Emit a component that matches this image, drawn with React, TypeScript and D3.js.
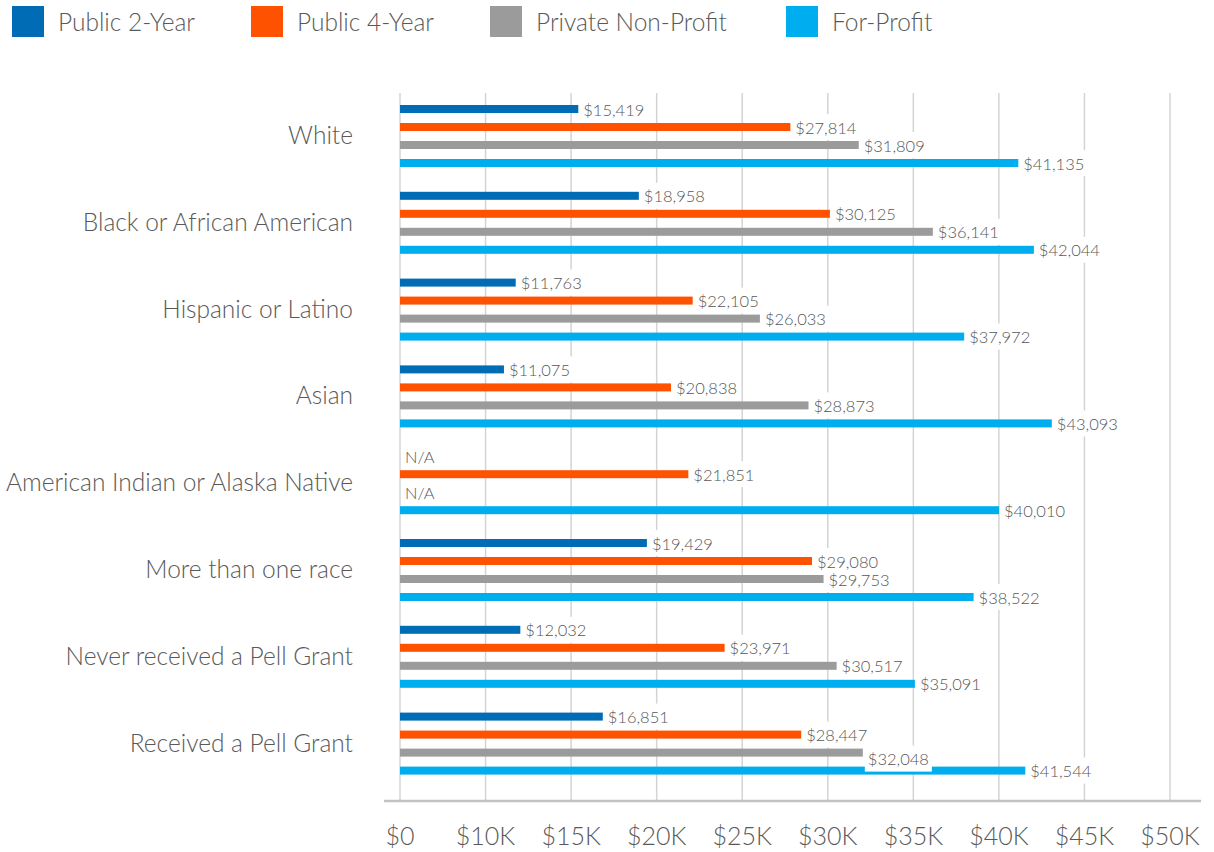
import React, { useEffect, useRef } from "react";
import * as d3 from "d3";

const categories = [
  "White",
  "Black or African American",
  "Hispanic or Latino",
  "Asian",
  "American Indian or Alaska Native",
  "More than one race",
  "Never received a Pell Grant",
  "Received a Pell Grant",
];

const seriesNames = ["Public 2-Year", "Public 4-Year", "Private Non-Profit", "For-Profit"];
const seriesColors = ["#006cb5", "#ff5200", "#9b9b9b", "#00aeef"];

const public2Year: (number | null)[] = [15419, 18958, 11763, 11075, null, 19429, 12032, 16851];
const public4Year: (number | null)[] = [27814, 30125, 22105, 20838, 21851, 29080, 23971, 28447];
const privateNonProfit: (number | null)[] = [31809, 36141, 26033, 28873, null, 29753, 30517, 32048];
const forProfit: (number | null)[] = [41135, 42044, 37972, 43093, 40010, 38522, 35091, 41544];

const tickValues = [5000, 10000, 15000, 20000, 25000, 30000, 35000, 40000, 45000, 50000];
const tickLabels = ["$0", "$10K", "$15K", "$20K", "$25K", "$30K", "$35K", "$40K", "$45K", "$50K"];

// label nudges (category index, series index) -> dy in px
const labelNudges: Record<string, number> = { "7-2": 6 };

const W = 1214;
const H = 852;
const FONT = "Lato, 'Open Sans', sans-serif";
const TEXT = "#595959";

export default function App() {
  const ref = useRef<SVGSVGElement | null>(null);

  useEffect(() => {
    const svg = d3.select(ref.current);
    svg.selectAll("*").remove();

    const series = [public2Year, public4Year, privateNonProfit, forProfit];

    const x = d3.scaleLinear().domain([5000, 50000]).range([400, 1170]);
    const y = d3.scaleBand<string>().domain(categories).range([92.6, 787]).padding(0);
    const inner = d3.scaleBand<number>().domain([0, 1, 2, 3]).range([-36, 36]);
    const barH = 8;

    // legend
    const legend = svg.append("g");
    const legendX = [12, 251, 490, 786];
    seriesNames.forEach((name, i) => {
      legend.append("rect").attr("x", legendX[i]).attr("y", 6).attr("width", 32).attr("height", 31).attr("fill", seriesColors[i]);
      legend
        .append("text")
        .attr("x", legendX[i] + 46)
        .attr("y", 31)
        .attr("font-family", FONT)
        .attr("font-weight", 300)
        .attr("font-size", 24.5)
        .attr("fill", TEXT)
        .text(name);
    });

    // gridlines
    svg
      .append("g")
      .selectAll("line")
      .data(tickValues)
      .join("line")
      .attr("x1", (d) => x(d))
      .attr("x2", (d) => x(d))
      .attr("y1", 93)
      .attr("y2", 801)
      .attr("stroke", "#d4d4d4")
      .attr("stroke-width", 1.5);

    // axis line
    svg.append("line").attr("x1", 384).attr("x2", 1201).attr("y1", 801).attr("y2", 801).attr("stroke", "#c2c2c2").attr("stroke-width", 2.5);

    // tick labels
    svg
      .append("g")
      .selectAll("text")
      .data(tickValues)
      .join("text")
      .attr("x", (d) => x(d))
      .attr("y", 845)
      .attr("text-anchor", "middle")
      .attr("font-family", FONT)
      .attr("font-weight", 300)
      .attr("font-size", 25)
      .attr("fill", TEXT)
      .text((_, i) => tickLabels[i]);

    // category labels
    svg
      .append("g")
      .selectAll("text")
      .data(categories)
      .join("text")
      .attr("x", 353)
      .attr("y", (d) => (y(d) as number) + y.bandwidth() / 2 + 2)
      .attr("dominant-baseline", "middle")
      .attr("text-anchor", "end")
      .attr("font-family", FONT)
      .attr("font-weight", 300)
      .attr("font-size", 24.5)
      .attr("fill", TEXT)
      .text((d) => d);

    // bars
    const barsG = svg.append("g");
    categories.forEach((cat, ci) => {
      const cy = (y(cat) as number) + y.bandwidth() / 2;
      series.forEach((vals, si) => {
        const v = vals[ci];
        if (v == null) return;
        const bc = cy + (inner(si) as number) + inner.bandwidth() / 2;
        barsG
          .append("rect")
          .attr("x", x(5000))
          .attr("y", bc - barH / 2)
          .attr("width", x(v) - x(5000))
          .attr("height", barH)
          .attr("fill", seriesColors[si]);
      });
    });

    // value labels: white boxes first, then texts
    const boxesG = svg.append("g");
    const textsG = svg.append("g");
    categories.forEach((cat, ci) => {
      const cy = (y(cat) as number) + y.bandwidth() / 2;
      series.forEach((vals, si) => {
        const v = vals[ci];
        const bc = cy + (inner(si) as number) + inner.bandwidth() / 2 + (labelNudges[`${ci}-${si}`] || 0);
        const tx = v == null ? x(5000) + 5 : x(v) + 5;
        const t = textsG
          .append("text")
          .attr("x", tx)
          .attr("y", bc + 0.5)
          .attr("dominant-baseline", "central")
          .attr("font-family", FONT)
          .attr("font-weight", 300)
          .attr("font-size", 16.5)
          .attr("fill", "#575757")
          .text(v == null ? "N/A" : d3.format("$,")(v));
        const w = (t.node() as SVGTextElement).getComputedTextLength();
        if (v != null) {
          boxesG
            .append("rect")
            .attr("fill", "#ffffff")
            .attr("x", tx - 3)
            .attr("y", bc - 13)
            .attr("width", w + 6)
            .attr("height", 26);
        }
      });
    });
  }, []);

  return (
    <svg
      ref={ref}
      width={W}
      height={H}
      style={{ position: "absolute", left: 0, top: 0, background: "#ffffff" }}
    />
  );
}
